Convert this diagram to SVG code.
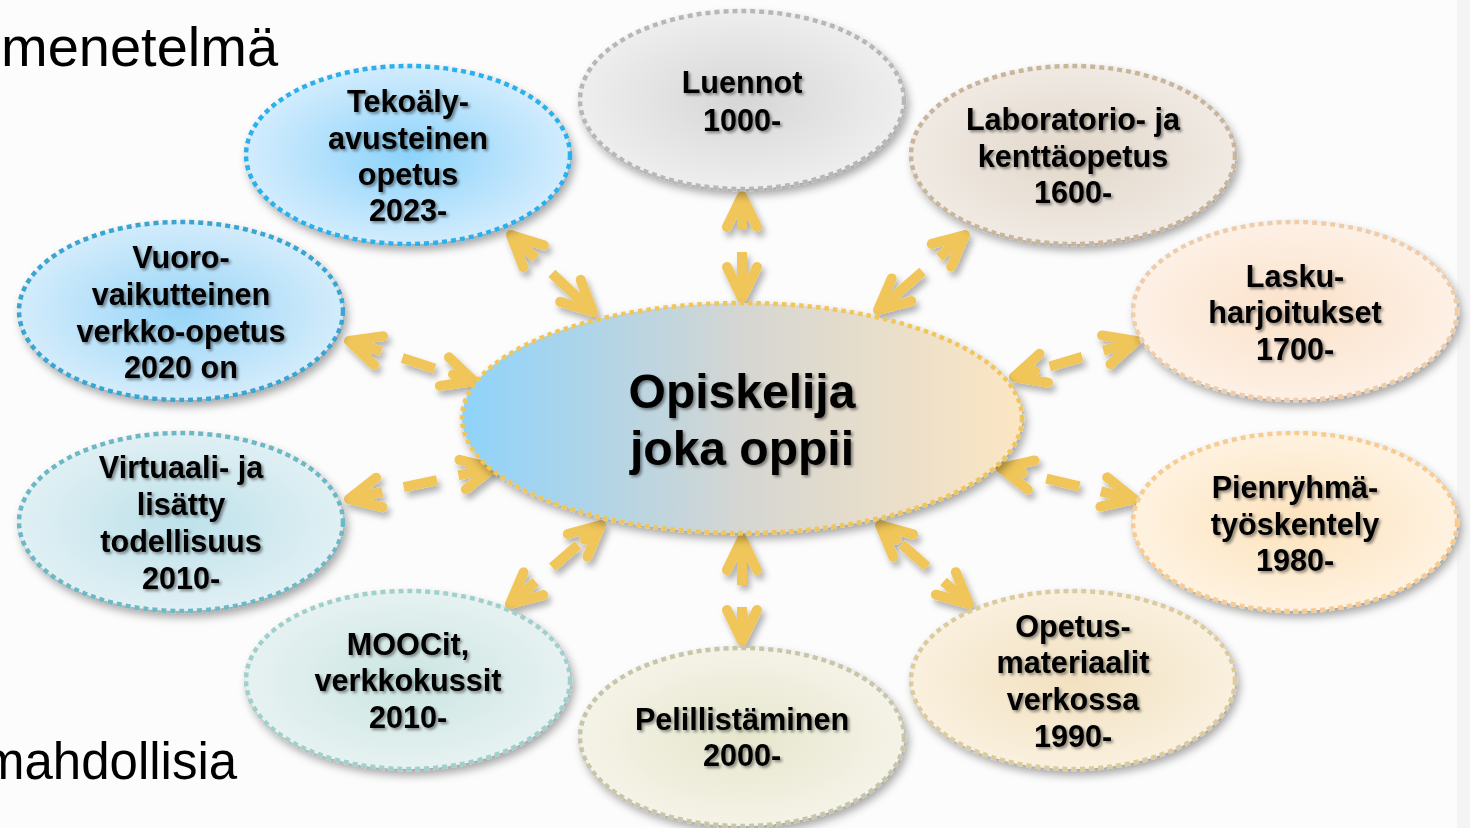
<svg xmlns="http://www.w3.org/2000/svg" width="1470" height="828" viewBox="0 0 1470 828">
<defs>
<style>
.bg-text{font-family:"Liberation Sans",Arial,sans-serif;font-size:56px;fill:#000}
.lbl{font-family:"Liberation Sans",Arial,sans-serif;font-weight:bold;font-size:30.6px;fill:#000;text-anchor:middle}
.ctr{font-family:"Liberation Sans",Arial,sans-serif;font-weight:bold;font-size:48px;fill:#000;text-anchor:middle}
.node{stroke-width:4.5;stroke-dasharray:5 4}
.conn{stroke:#f0c65a;stroke-width:10;fill:none;stroke-dasharray:34 22;marker-start:url(#ah);marker-end:url(#ah)}
</style>
<filter id="sh" x="-20%" y="-20%" width="140%" height="150%"><feDropShadow dx="3" dy="5" stdDeviation="4" flood-color="#000" flood-opacity="0.35"/></filter>
<filter id="ash" x="-30%" y="-30%" width="160%" height="160%"><feDropShadow dx="3" dy="5" stdDeviation="3" flood-color="#000" flood-opacity="0.3"/></filter>
<filter id="tsh" x="-10%" y="-20%" width="120%" height="150%"><feDropShadow dx="2" dy="2" stdDeviation="1.5" flood-color="#000" flood-opacity="0.45"/></filter>
<marker id="ah" markerUnits="userSpaceOnUse" markerWidth="60" markerHeight="60" viewBox="-45 -30 60 60" refX="0" refY="0" orient="auto-start-reverse">
<path d="M-31,-15 L0,0 L-31,15 M-22,0 L0,0" fill="none" stroke="#f0c65a" stroke-width="10" stroke-linecap="round" stroke-linejoin="round"/>
</marker>
<linearGradient id="gC" x1="0" y1="0" x2="1" y2="0">
<stop offset="0" stop-color="#8ed3fb"/><stop offset="0.5" stop-color="#d5d6d2"/><stop offset="1" stop-color="#fce6c3"/>
</linearGradient>
<radialGradient id="g1"><stop offset="0" stop-color="#d6d6d6"/><stop offset="1" stop-color="#eeeeee"/></radialGradient>
<radialGradient id="g2"><stop offset="0" stop-color="#e2d7ca"/><stop offset="1" stop-color="#f0eae3"/></radialGradient>
<radialGradient id="g3"><stop offset="0" stop-color="#fbe2ca"/><stop offset="1" stop-color="#fdf0e5"/></radialGradient>
<radialGradient id="g4"><stop offset="0" stop-color="#fde3bd"/><stop offset="1" stop-color="#fef2e0"/></radialGradient>
<radialGradient id="g5"><stop offset="0" stop-color="#f2e1c0"/><stop offset="1" stop-color="#f9f0de"/></radialGradient>
<radialGradient id="g6"><stop offset="0" stop-color="#e7e6cd"/><stop offset="1" stop-color="#f4f3e7"/></radialGradient>
<radialGradient id="g7"><stop offset="0" stop-color="#cbe5e2"/><stop offset="1" stop-color="#e6f2f1"/></radialGradient>
<radialGradient id="g8"><stop offset="0" stop-color="#bde1ea"/><stop offset="1" stop-color="#e0f0f4"/></radialGradient>
<radialGradient id="g9"><stop offset="0" stop-color="#98d5f8"/><stop offset="1" stop-color="#d3ecfb"/></radialGradient>
<radialGradient id="g10"><stop offset="0" stop-color="#8cd3fb"/><stop offset="1" stop-color="#d2ecfd"/></radialGradient>
</defs>
<rect x="0" y="0" width="1470" height="828" fill="#fcfcfc"/>
<rect x="1457" y="0" width="13" height="828" fill="#f4f4f4"/>
<text class="bg-text" x="1" y="66">menetelmä</text>
<text class="bg-text" x="-18" y="779" style="font-size:51px">mahdollisia</text>

<g id="connectors" filter="url(#ash)">
<line class="conn" x1="742" y1="196" x2="742" y2="298"/>
<line class="conn" x1="965" y1="235" x2="878" y2="310"/>
<line class="conn" x1="1136" y1="341" x2="1014" y2="377"/>
<line class="conn" x1="1134" y1="499" x2="1001" y2="468"/>
<line class="conn" x1="969" y1="604" x2="880" y2="525"/>
<line class="conn" x1="742" y1="641" x2="742" y2="539"/>
<line class="conn" x1="510" y1="604" x2="601" y2="525"/>
<line class="conn" x1="349" y1="499" x2="493" y2="468"/>
<line class="conn" x1="349" y1="341" x2="474" y2="381"/>
<line class="conn" x1="511" y1="235" x2="593" y2="312"/>
</g>

<g id="center">
<ellipse cx="742" cy="418" rx="280" ry="115" fill="url(#gC)" stroke="#f0c65a" stroke-width="4.5" stroke-dasharray="4.5 4" filter="url(#sh)"/>
<g filter="url(#tsh)"><text class="ctr" x="742" y="408">Opiskelija</text><text class="ctr" x="742" y="465">joka oppii</text></g>
</g>

<g id="n1">
<ellipse class="node" cx="742" cy="100" rx="162" ry="89" fill="url(#g1)" stroke="#b7b7b7" filter="url(#sh)"/>
<g filter="url(#tsh)"><text class="lbl" x="742" y="93">Luennot</text><text class="lbl" x="742" y="131">1000-</text></g>
</g>
<g id="n2">
<ellipse class="node" cx="1073" cy="155" rx="162" ry="89" fill="url(#g2)" stroke="#c9b59b" filter="url(#sh)"/>
<g filter="url(#tsh)"><text class="lbl" x="1073" y="130">Laboratorio- ja</text><text class="lbl" x="1073" y="167">kenttäopetus</text><text class="lbl" x="1073" y="203">1600-</text></g>
</g>
<g id="n3">
<ellipse class="node" cx="1295" cy="311" rx="162" ry="89" fill="url(#g3)" stroke="#efcdab" filter="url(#sh)"/>
<g filter="url(#tsh)"><text class="lbl" x="1295" y="287">Lasku-</text><text class="lbl" x="1295" y="323">harjoitukset</text><text class="lbl" x="1295" y="360">1700-</text></g>
</g>
<g id="n4">
<ellipse class="node" cx="1295" cy="522" rx="162" ry="89" fill="url(#g4)" stroke="#f8cc90" filter="url(#sh)"/>
<g filter="url(#tsh)"><text class="lbl" x="1295" y="498">Pienryhmä-</text><text class="lbl" x="1295" y="535">työskentely</text><text class="lbl" x="1295" y="571">1980-</text></g>
</g>
<g id="n5">
<ellipse class="node" cx="1073" cy="680" rx="162" ry="89" fill="url(#g5)" stroke="#dccb9e" filter="url(#sh)"/>
<g filter="url(#tsh)"><text class="lbl" x="1073" y="637">Opetus-</text><text class="lbl" x="1073" y="673">materiaalit</text><text class="lbl" x="1073" y="710">verkossa</text><text class="lbl" x="1073" y="747">1990-</text></g>
</g>
<g id="n6">
<ellipse class="node" cx="742" cy="737" rx="162" ry="89" fill="url(#g6)" stroke="#c8c5a8" filter="url(#sh)"/>
<g filter="url(#tsh)"><text class="lbl" x="742" y="730">Pelillistäminen</text><text class="lbl" x="742" y="766">2000-</text></g>
</g>
<g id="n7">
<ellipse class="node" cx="408" cy="680" rx="162" ry="89" fill="url(#g7)" stroke="#9fd0cb" filter="url(#sh)"/>
<g filter="url(#tsh)"><text class="lbl" x="408" y="655">MOOCit,</text><text class="lbl" x="408" y="691">verkkokussit</text><text class="lbl" x="408" y="728">2010-</text></g>
</g>
<g id="n8">
<ellipse class="node" cx="181" cy="522" rx="162" ry="89" fill="url(#g8)" stroke="#6db8c5" filter="url(#sh)"/>
<g filter="url(#tsh)"><text class="lbl" x="181" y="478">Virtuaali- ja</text><text class="lbl" x="181" y="515">lisätty</text><text class="lbl" x="181" y="552">todellisuus</text><text class="lbl" x="181" y="589">2010-</text></g>
</g>
<g id="n9">
<ellipse class="node" cx="181" cy="311" rx="162" ry="89" fill="url(#g9)" stroke="#3aa4d0" filter="url(#sh)"/>
<g filter="url(#tsh)"><text class="lbl" x="181" y="268">Vuoro-</text><text class="lbl" x="181" y="305">vaikutteinen</text><text class="lbl" x="181" y="342">verkko-opetus</text><text class="lbl" x="181" y="378">2020 on</text></g>
</g>
<g id="n10">
<ellipse class="node" cx="408" cy="155" rx="162" ry="89" fill="url(#g10)" stroke="#2ab0ea" filter="url(#sh)"/>
<g filter="url(#tsh)"><text class="lbl" x="408" y="112">Tekoäly-</text><text class="lbl" x="408" y="149">avusteinen</text><text class="lbl" x="408" y="185">opetus</text><text class="lbl" x="408" y="221">2023-</text></g>
</g>
</svg>
